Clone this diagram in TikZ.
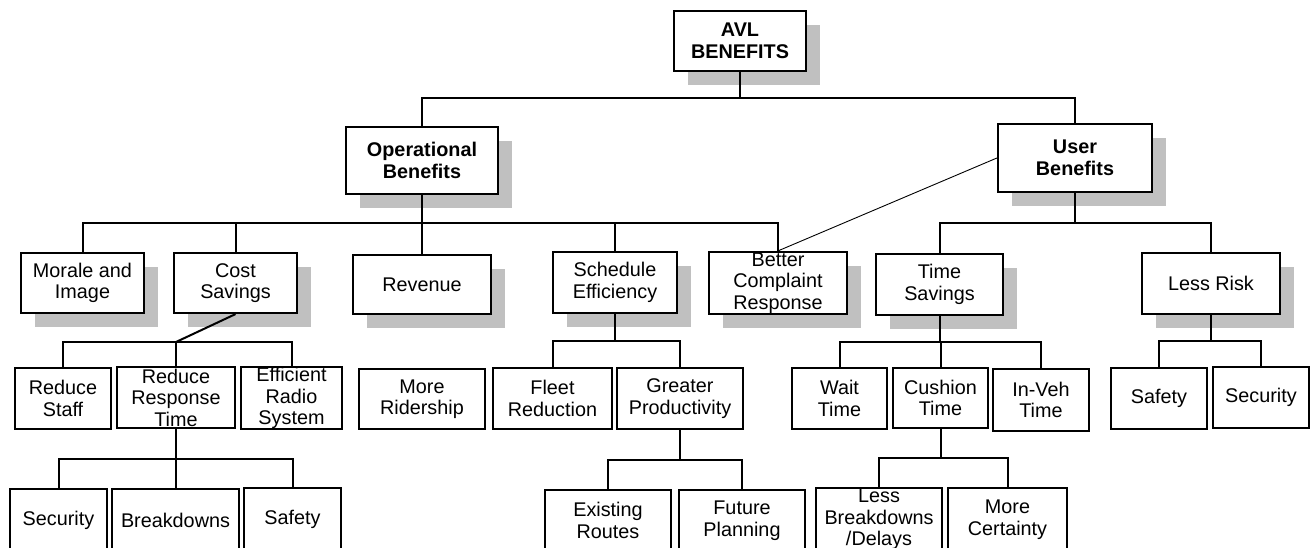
\documentclass[tikz,border=0pt]{standalone}
\usepackage{fontspec}
\setmainfont{Liberation Sans}
\usetikzlibrary{shadows}
\definecolor{shade}{RGB}{192,192,192}
\tikzset{
  box/.style={draw=black, line width=2.2pt, fill=white, inner sep=0pt,
    align=center, font=\fontsize{19.8}{21.5}\selectfont},
  shbox/.style={box, general shadow={fill=shade, shadow xshift=14pt, shadow yshift=-14pt}},
  head/.style={shbox, font=\fontsize{19.8}{21.5}\selectfont\bfseries},
  link/.style={line width=2pt},
  thinlink/.style={line width=0.9pt},
}
\begin{document}
\begin{tikzpicture}[x=1pt, y=-1pt]
\useasboundingbox (0,0) rectangle (1310,548);

% top and second level
\node[head, minimum width=132pt, minimum height=60pt] (avl) at (740,41) {AVL\\BENEFITS};
\node[head, minimum width=152pt, minimum height=67pt] (op) at (422,160.5) {Operational\\Benefits};
\node[head, minimum width=154pt, minimum height=68pt] (ub) at (1075,158) {User\\Benefits};

% third level (shadowed)
\node[shbox, minimum width=123pt, minimum height=60pt] (mor) at (82.5,283) {Morale and\\Image};
\node[shbox, minimum width=123pt, minimum height=60pt] (cost) at (235.5,283) {Cost\\Savings};
\node[shbox, minimum width=138pt, minimum height=59pt] (rev) at (422,284.5) {Revenue};
\node[shbox, minimum width=124pt, minimum height=61pt] (sched) at (615,282.5) {Schedule\\Efficiency};
\node[shbox, minimum width=138pt, minimum height=62pt] (bcr) at (778,283) {Better\\Complaint\\Response};
\node[shbox, minimum width=127pt, minimum height=61pt] (ts) at (939.5,284.5) {Time\\Savings};
\node[shbox, minimum width=138pt, minimum height=61pt] (lr) at (1211,283.5) {Less Risk};

% fourth level
\node[box, minimum width=96pt, minimum height=61pt] (rs) at (63,398.5) {Reduce\\Staff};
\node[box, minimum width=118pt, minimum height=61pt] (rrt) at (176,397.5) {Reduce\\Response\\Time};
\node[box, minimum width=101pt, minimum height=62pt] (ers) at (291.5,398) {Efficient\\Radio\\System};
\node[box, minimum width=126pt, minimum height=60pt] (mr) at (422,399) {More\\Ridership};
\node[box, minimum width=119pt, minimum height=61pt] (fr) at (552.5,398.5) {Fleet\\Reduction};
\node[box, minimum width=126pt, minimum height=61pt] (gp) at (680,398.5) {Greater\\Productivity};
\node[box, minimum width=95pt, minimum height=61pt] (wt) at (839.5,398.5) {Wait\\Time};
\node[box, minimum width=95pt, minimum height=60pt] (ct) at (940.5,398) {Cushion\\Time};
\node[box, minimum width=96pt, minimum height=62pt] (iv) at (1041,400) {In-Veh\\Time};
\node[box, minimum width=96pt, minimum height=61pt] (sa) at (1159,398.5) {Safety};
\node[box, minimum width=96pt, minimum height=61pt] (se) at (1261,397.5) {Security};

% bottom level
\node[box, minimum width=97pt, minimum height=62pt] (sec) at (58.5,520) {Security};
\node[box, minimum width=127pt, minimum height=62pt] (brk) at (175.5,520) {Breakdowns};
\node[box, minimum width=97pt, minimum height=63pt] (saf) at (292.5,519.5) {Safety};
\node[box, minimum width=126pt, minimum height=61pt] (er) at (608,520.5) {Existing\\Routes};
\node[box, minimum width=126pt, minimum height=61pt] (fp) at (742,520.5) {Future\\Planning};
\node[box, minimum width=126pt, minimum height=63pt] (lb) at (879,519.5) {Less\\Breakdowns\\/Delays};
\node[box, minimum width=119pt, minimum height=63pt] (mc) at (1007.5,519.5) {More\\Certainty};

% junction points of the tree
\coordinate (jA) at (740,98);
\coordinate (jO) at (422,223);
\coordinate (jU) at (1075,223);
\coordinate (jC) at (176,342);
\coordinate (jR) at (176,459);
\coordinate (jS) at (615,341);
\coordinate (jG) at (680,460);
\coordinate (jT) at (939.5,342);
\coordinate (jK) at (940.5,458);
\coordinate (jL) at (1211,341);

% connectors
\draw[link] (avl.south) -- (jA);
\draw[link] (jA) -| (op.north);
\draw[link] (jA) -| (ub.north);

\draw[link] (op.south) -- (jO);
\draw[link] (jO) -| (mor.north);
\draw[link] (jO) -| (cost.north);
\draw[link] (jO) -- (rev.north);
\draw[link] (jO) -| (sched.north);
\draw[link] (jO) -| (bcr.north);

\draw[link] (ub.south) -- (jU);
\draw[link] (jU) -| (ts.north);
\draw[link] (jU) -| (lr.north);
\draw[thinlink] (ub.west) -- (bcr.north);

\draw[link] (cost.south) -- (jC);
\draw[link] (jC) -| (rs.north);
\draw[link] (jC) -- (rrt.north);
\draw[link] (jC) -| (ers.north);

\draw[link] (rrt.south) -- (jR);
\draw[link] (jR) -| (sec.north);
\draw[link] (jR) -| (brk.north);
\draw[link] (jR) -| (saf.north);

\draw[link] (sched.south) -- (jS);
\draw[link] (jS) -| (fr.north);
\draw[link] (jS) -| (gp.north);

\draw[link] (gp.south) -- (jG);
\draw[link] (jG) -| (er.north);
\draw[link] (jG) -| (fp.north);

\draw[link] (ts.south) -- (jT);
\draw[link] (jT) -| (wt.north);
\draw[link] (jT) -| (ct.north);
\draw[link] (jT) -| (iv.north);

\draw[link] (ct.south) -- (jK);
\draw[link] (jK) -| (lb.north);
\draw[link] (jK) -| (mc.north);

\draw[link] (lr.south) -- (jL);
\draw[link] (jL) -| (sa.north);
\draw[link] (jL) -| (se.north);
\end{tikzpicture}
\end{document}
